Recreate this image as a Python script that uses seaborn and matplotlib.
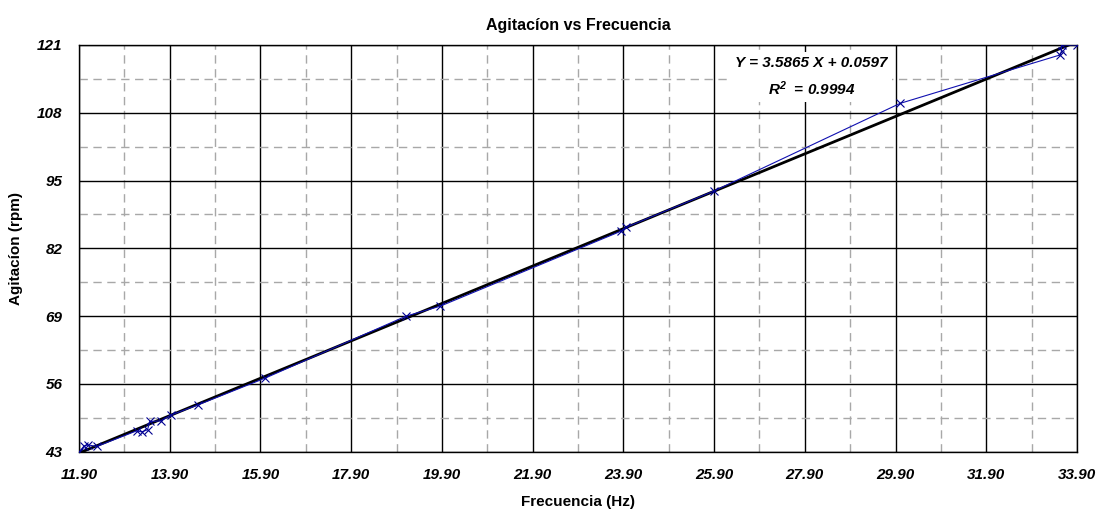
import numpy as np
import pandas as pd
import matplotlib
matplotlib.use("Agg")
import matplotlib.pyplot as plt
import seaborn as sns
from matplotlib.ticker import FixedLocator, FormatStrFormatter

# Data
frecuencia = [11.91, 12.01, 12.10, 12.29, 13.17, 13.28, 13.41, 13.46, 13.70, 13.92, 14.53,
              16.00, 19.11, 19.86, 23.85, 23.95, 25.90, 30.00, 33.53, 33.56, 33.56, 33.90]
agitacion = [43.0, 44.1, 44.3, 44.0, 47.0, 46.8, 47.2, 48.8, 48.9, 50.0, 52.0,
             57.1, 69.0, 70.9, 85.3, 86.0, 93.0, 109.8, 119.1, 119.9, 121.0, 121.0]
pendiente = 3.5865
intercepto = 0.0597
r2 = 0.9994
x_ticks = [11.90, 13.90, 15.90, 17.90, 19.90, 21.90, 23.90, 25.90, 27.90, 29.90, 31.90, 33.90]
y_ticks = [43, 56, 69, 82, 95, 108, 121]

df = pd.DataFrame({"Frecuencia": frecuencia, "Agitacion": agitacion})
df["Ajuste"] = pendiente * df["Frecuencia"] + intercepto

sns.set_theme(style="white")
plt.rcParams["font.family"] = ["Liberation Sans", "DejaVu Sans"]
plt.rcParams["mathtext.fontset"] = "custom"
plt.rcParams["mathtext.rm"] = "Liberation Sans:bold:italic"
plt.rcParams["mathtext.it"] = "Liberation Sans:bold:italic"
plt.rcParams["text.color"] = "black"
plt.rcParams["axes.labelcolor"] = "black"
plt.rcParams["xtick.color"] = "black"
plt.rcParams["ytick.color"] = "black"

fig, ax = plt.subplots(figsize=(11.04, 5.19), dpi=100)
fig.subplots_adjust(left=0.0716, right=0.9755, top=0.9133, bottom=0.1297)

# grid: solid at major ticks, dashed halfway between
x_mid = [(a + b) / 2 for a, b in zip(x_ticks[:-1], x_ticks[1:])]
y_mid = [(a + b) / 2 for a, b in zip(y_ticks[:-1], y_ticks[1:])]
ax.set_xticks(x_ticks)
ax.set_yticks(y_ticks)
ax.xaxis.set_minor_locator(FixedLocator(x_mid))
ax.yaxis.set_minor_locator(FixedLocator(y_mid))
ax.grid(which="major", color="black", linewidth=1.0, linestyle="-")
ax.grid(which="minor", color="#a8a8a8", linewidth=1.0, linestyle=(0, (6, 4)))
ax.set_axisbelow(True)

# fitted line
sns.lineplot(data=df, x="Frecuencia", y="Ajuste", color="black", linewidth=2.0,
             ax=ax, sort=True, zorder=3)
# measured data
sns.lineplot(data=df, x="Frecuencia", y="Agitacion", color="#1010b0", linewidth=0.8,
             marker="x", markersize=6, markeredgecolor="#000090", markeredgewidth=0.8,
             ax=ax, sort=True, estimator=None, zorder=4)

ax.set_xlim(x_ticks[0], x_ticks[-1])
ax.set_ylim(y_ticks[0], y_ticks[-1])
ax.xaxis.set_major_formatter(FormatStrFormatter("%.2f"))
ax.yaxis.set_major_formatter(FormatStrFormatter("%d"))

ax.tick_params(axis="both", which="major", direction="out", length=5, width=1,
               color="black", labelsize=11, pad=7)
ax.tick_params(axis="both", which="minor", length=0)
for lab in ax.get_xticklabels() + ax.get_yticklabels():
    lab.set_fontweight("bold")
    lab.set_fontstyle("italic")

for sp in ax.spines.values():
    sp.set_color("black")
    sp.set_linewidth(1.0)
    sp.set_visible(True)

ax.set_title("Agitacíon vs Frecuencia", fontsize=11.5, fontweight="bold", pad=11)
ax.set_xlabel("Frecuencia (Hz)", fontsize=11, fontweight="bold", labelpad=9)
ax.set_ylabel("Agitacíon (rpm)", fontsize=11, fontweight="bold", labelpad=10)

ax.text(0.734, 0.922,
        f"Y = {pendiente:.4f} X + {intercepto:.4f}\nR$^2$  = {r2:.4f}",
        transform=ax.transAxes, ha="center", va="center", multialignment="center",
        fontsize=11, fontweight="bold", fontstyle="italic", linespacing=1.6,
        bbox=dict(facecolor="white", edgecolor="none", pad=3), zorder=5)

fig.savefig("out.png", dpi=100, facecolor="white")
